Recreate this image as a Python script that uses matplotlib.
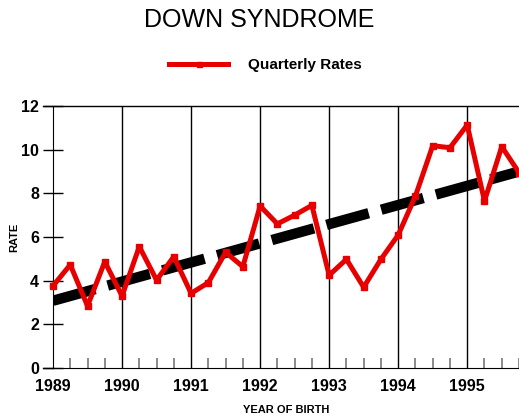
import numpy as np
import matplotlib.pyplot as plt

# Quarterly Down syndrome rates, 1989 Q1 .. 1995 Q4
quarters = np.arange(1989, 1995.76, 0.25)
rates = [3.76, 4.73, 2.84, 4.87, 3.30, 5.56, 4.03, 5.10,
         3.42, 3.91, 5.30, 4.64, 7.42, 6.60, 7.00, 7.45,
         4.25, 4.98, 3.70, 4.98, 6.09, 7.88, 10.18, 10.09,
         11.13, 7.65, 10.14, 8.95]
trend_x = [1989.0, 1995.75]
trend_y = [3.08, 9.0]
years = [1989, 1990, 1991, 1992, 1993, 1994, 1995]
yticks = [0, 2, 4, 6, 8, 10, 12]

plt.rcParams['font.family'] = ['Liberation Sans', 'DejaVu Sans']

fig = plt.figure(figsize=(5.19, 4.2), dpi=100)
ax = fig.add_axes([53/519, 1-368/420, 1-53/519, (368-106)/420])

for y in years[1:]:
    ax.axvline(y, color='black', lw=1, zorder=1)

ax.plot(trend_x, trend_y, color='black', lw=7.5, dashes=(4.2, 1.25),
        solid_capstyle='butt', dash_capstyle='butt', zorder=2)
line, = ax.plot(quarters, rates, color='#e60000', lw=3.6, marker='s', ms=4.5,
                zorder=3, clip_on=False)

ax.set_xlim(1989, 1995.75)
ax.set_ylim(0, 12)
ax.set_xticks(years)
ax.set_xticklabels([str(y) for y in years], fontsize=11.5, fontweight='bold')
ax.set_xticks([q for q in quarters if q % 1 != 0], minor=True)
ax.tick_params(axis='x', which='major', length=0, pad=8)
ax.tick_params(axis='x', which='minor', direction='in', length=7, width=1.2, color='#777777')
ax.set_yticks(yticks)
ax.set_yticklabels([str(v) for v in yticks], fontsize=11.5, fontweight='bold')
ax.tick_params(axis='y', direction='inout', length=14, width=1, pad=3)

ax.spines['right'].set_visible(False)
ax.spines['top'].set_visible(False)
ax.plot([-0.022, 1], [1, 1], transform=ax.transAxes, color='black', lw=1, clip_on=False)
ax.plot([-0.022, 0], [0, 0], transform=ax.transAxes, color='black', lw=1, clip_on=False)

ax.set_ylabel('RATE', fontsize=8, fontweight='bold', va='center')
ax.yaxis.set_label_coords((14-53)/466, 0.5)
ax.set_xlabel('YEAR OF BIRTH', fontsize=8, fontweight='bold', va='center')
ax.xaxis.set_label_coords((286-53)/466, (368-410)/262)

fig.text(0.5, 1-20/420, 'DOWN SYNDROME', ha='center', va='center', fontsize=18)
fig.legend([line], ['Quarterly Rates'], loc='center left',
           bbox_to_anchor=(155/519, 1-65/420), frameon=False,
           prop={'size': 11, 'weight': 'bold'}, handlelength=3.9,
           handletextpad=1.3, markerscale=0.8)

fig.savefig('out.png', dpi=100)
